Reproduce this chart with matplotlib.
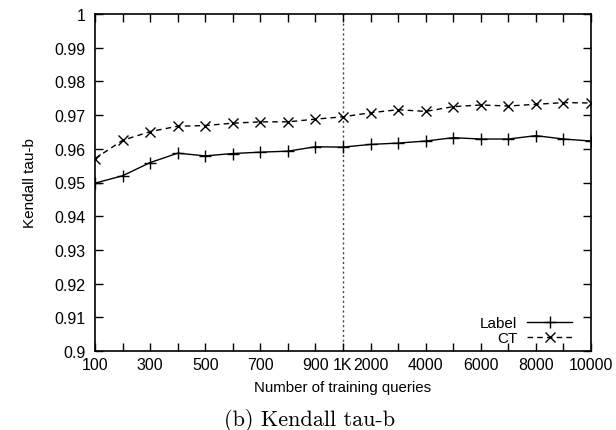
import numpy as np
import matplotlib.pyplot as plt

# Training set sizes (equally spaced on the axis)
queries = [100, 200, 300, 400, 500, 600, 700, 800, 900, 1000,
           2000, 3000, 4000, 5000, 6000, 7000, 8000, 9000, 10000]
tick_labels = ["100", "", "300", "", "500", "", "700", "", "900", "1K",
               "2000", "", "4000", "", "6000", "", "8000", "", "10000"]

label_tau = [0.9498, 0.9520, 0.9559, 0.9587, 0.9579, 0.9586, 0.9590, 0.9593,
             0.9606, 0.9605, 0.9613, 0.9617, 0.9623, 0.9633, 0.9629, 0.9629,
             0.9639, 0.9629, 0.9623]
ct_tau = [0.9571, 0.9625, 0.9651, 0.9667, 0.9669, 0.9676, 0.9680, 0.9680,
          0.9688, 0.9695, 0.9707, 0.9716, 0.9711, 0.9725, 0.9730, 0.9727,
          0.9732, 0.9737, 0.9736]

plt.rcParams['font.family'] = ['Liberation Sans', 'DejaVu Sans']

fig = plt.figure(figsize=(6.16, 4.31), dpi=100)
ax = fig.add_axes([95 / 616, 1 - 352 / 431, 496 / 616, 337 / 431])

pos = np.arange(len(queries))
ax.plot(pos, label_tau, color="black", linewidth=1.0, marker="+",
        markersize=8, markeredgewidth=1.0, label="Label")
ax.plot(pos, ct_tau, color="black", linewidth=1.0, linestyle=(0, (4, 3)),
        marker="x", markersize=7, markeredgewidth=1.0, label="CT")

# 1K boundary
ax.axvline(queries.index(1000), color="#444444", linestyle=(0, (1.5, 2)),
           linewidth=1.0, zorder=0)

ax.set_xlim(0, len(queries) - 1)
ax.set_ylim(0.9, 1.0)
ax.set_xticks(pos)
ax.set_xticklabels(tick_labels)
yt = np.round(np.arange(0.9, 1.0001, 0.01), 2)
ax.set_yticks(yt)
ax.set_yticklabels(["0.9"] + [f"{v:.2f}" for v in yt[1:-1]] + ["1"])
ax.tick_params(direction="in", length=6, width=1, top=True, right=True,
               labelsize=11.5)
ax.tick_params(axis="x", pad=4)
ax.tick_params(axis="y", pad=7)
for s in ax.spines.values():
    s.set_linewidth(1.2)

ax.set_xlabel("Number of training queries", fontsize=10.8, labelpad=6)
ax.set_ylabel("Kendall tau-b", fontsize=11, labelpad=12)

ax.legend(loc="lower right", bbox_to_anchor=(0.975, 0.0), frameon=False,
          markerfirst=False, fontsize=11, handlelength=3.0,
          handletextpad=0.6, labelspacing=0.05, borderaxespad=0)

fig.text(310 / 616, 1 - 421 / 431, "(b) Kendall tau-b", family="cmr10",
         fontsize=16, ha="center", va="center")

fig.savefig("out.png", dpi=100)
